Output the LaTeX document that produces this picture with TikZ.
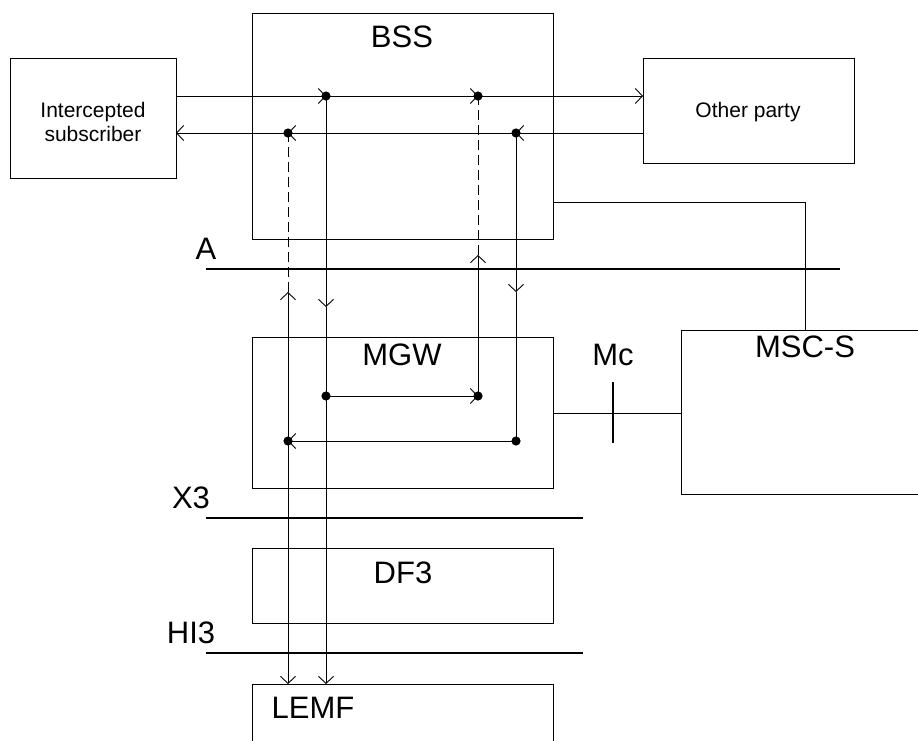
\documentclass[tikz,border=0pt]{standalone}
\usepackage{fontspec}
\setmainfont{Liberation Sans}
\usetikzlibrary{arrows.meta}
\begin{document}
\begin{tikzpicture}[x=1pt,y=-1pt,line width=0.9pt,
  box/.style={draw,rectangle,inner sep=0pt,outer sep=0pt},
  big/.style={font=\fontsize{31}{35}\selectfont,inner sep=0pt},
  small/.style={font=\fontsize{21}{24}\selectfont,inner sep=0pt,align=center},
  barb/.style={-{Straight Barb[length=7pt,width=15pt,line width=0.9pt]}},
  dsh/.style={dash pattern=on 10pt off 5pt},
  iface/.style={line width=1.8pt},
  dot/.style={fill=black}]
\useasboundingbox (0,0) rectangle (918,740);
% boxes
\node[box,minimum width=166pt,minimum height=120pt] (sub) at (93,118) {};
\node[box,minimum width=301pt,minimum height=226pt] (bss) at (402.5,126) {};
\node[box,minimum width=211pt,minimum height=105pt] (other) at (748.5,110.5) {};
\node[box,minimum width=301pt,minimum height=151pt] (mgw) at (402.5,412.5) {};
\node[box,minimum width=249pt,minimum height=164pt] (msc) at (805.5,412) {};
\node[box,minimum width=301pt,minimum height=75pt] (df3) at (402.5,585.5) {};
\node[box,minimum width=301pt,minimum height=66pt] (lemf) at (402.5,717) {};
% texts
\node[small] (tsub) at (93,122) {Intercepted\\subscriber};
\node[small] (toth) at (748,112) {Other party};
\node[big] (tbss) at (402,37) {BSS};
\node[big] (tmgw) at (402,355) {MGW};
\node[big] (tdf3) at (403,573) {DF3};
\node[big] (tlemf) at (313,708) {LEMF};
\node[big] (tmsc) at (805,347) {MSC-S};
\node[big] (tmc) at (613,355) {Mc};
\node[big] (ta) at (206,249) {A};
\node[big] (tx3) at (191,498) {X3};
\node[big] (thi3) at (191,633) {HI3};
% interface lines
\coordinate (a0) at (206,269); \coordinate (a9) at (840,269);
\coordinate (x0) at (206,518); \coordinate (x9) at (583,518);
\coordinate (h0) at (206,653); \coordinate (h9) at (583,653);
\draw[iface] (a0) -- (a9);
\draw[iface] (x0) -- (x9);
\draw[iface] (h0) -- (h9);
% tap points
\coordinate (d1) at (326,96);
\coordinate (d2) at (478,96);
\coordinate (d3) at (516,133);
\coordinate (d4) at (288,133);
\coordinate (m1) at (326,396);
\coordinate (m2) at (478,396);
\coordinate (m3) at (516,441);
\coordinate (m4) at (288,441);
\coordinate (p1) at (326,307);
\coordinate (p2) at (478,255);
\coordinate (p3) at (516,292);
\coordinate (p4) at (288,292);
% uplink
\draw[barb] (sub.east |- d1) -- (d1);
\draw[barb] (d1) -- (d2);
\draw[barb] (d2) -- (d2 -| other.west);
% downlink
\draw[barb] (other.west |- d3) -- (d3);
\draw[barb] (d3) -- (d4);
\draw[barb] (d4) -- (d4 -| sub.east);
% verticals
\draw[barb] (d1) -- (p1);
\draw (p1) -- (m1);
\draw[barb] (m1) -- (m1 |- lemf.north);
\draw[barb] (m1) -- (m2);
\draw[barb] (m2) -- (p2);
\draw[dsh] (p2) -- (d2);
\draw[barb] (d3) -- (p3);
\draw (p3) -- (m3);
\draw[barb] (m3) -- (m4);
\draw[barb] (m4) -- (p4);
\draw[dsh] (p4) -- (d4);
\draw[barb] (m4) -- (m4 |- lemf.north);
% dots
\foreach \p in {d1,d2,d3,d4,m1,m2,m3,m4} \fill[dot] (\p) circle (4.6pt);
% BSS - MSC-S
\coordinate (bm) at (805.5,202);
\draw (bss.east |- bm) -- (bm) -- (msc.north);
% Mc
\coordinate (mc) at (613,413);
\coordinate (mct) at (613,382);
\coordinate (mcb) at (613,443);
\draw (mgw.east |- mc) -- (msc.west |- mc);
\draw[line width=1.4pt] (mct) -- (mcb);
\end{tikzpicture}
\end{document}
